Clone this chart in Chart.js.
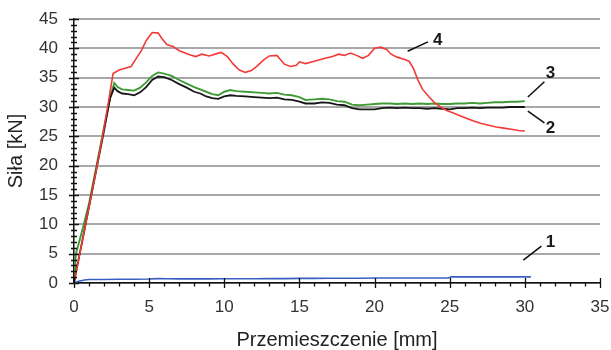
<!DOCTYPE html>
<html>
<head>
<meta charset="utf-8">
<script src="https://cdn.jsdelivr.net/npm/chart.js@4/dist/chart.umd.min.js"></script>
<style>
  html, body { margin: 0; padding: 0; background: #fff; }
  #wrap { width: 611px; height: 350px; }
</style>
</head>
<body>
<div id="wrap"><canvas id="chart" width="611" height="350"></canvas></div>
<script>
// --- DATA ---
const xTicks = [0, 5, 10, 15, 20, 25, 30, 35];
const yTicks = [0, 5, 10, 15, 20, 25, 30, 35, 40, 45];

// curve 4 (red)
const x4 = [0, 0.5, 1, 1.5, 2, 2.3, 2.6, 3.0, 3.4, 3.8, 4.2, 4.5, 4.8, 5.2, 5.6, 5.9, 6.2, 6.6, 7.0, 7.3, 7.7, 8.1, 8.5, 9.0, 9.5, 9.8, 10.2, 10.6, 11.0, 11.4, 11.8, 12.2, 12.6, 13.0, 13.5, 14.0, 14.4, 14.8, 15.0, 15.4, 16.0, 16.7, 17.2, 17.6, 18.0, 18.4, 18.8, 19.2, 19.6, 20.0, 20.4, 20.8, 21.1, 21.5, 22.0, 22.3, 22.6, 22.9, 23.2, 23.6, 24.0, 24.4, 24.8, 25.2, 25.6, 26.1, 26.6, 27.1, 27.6, 28.1, 28.6, 29.1, 29.6, 30.0];
const y4 = [0, 6.5, 13, 19.5, 26.5, 31, 35.7, 36.3, 36.6, 36.9, 38.5, 39.7, 41.3, 42.7, 42.6, 41.5, 40.6, 40.3, 39.6, 39.3, 38.9, 38.6, 39.0, 38.7, 39.1, 39.3, 38.6, 37.3, 36.3, 35.9, 36.2, 37.0, 38.0, 38.7, 38.8, 37.3, 36.9, 37.1, 37.7, 37.4, 37.8, 38.3, 38.6, 39.0, 38.8, 39.2, 38.8, 38.3, 38.8, 40.0, 40.2, 39.8, 39.0, 38.5, 38.1, 37.8, 36.5, 34.5, 33.0, 31.8, 30.7, 30.0, 29.4, 29.0, 28.6, 28.1, 27.6, 27.2, 26.9, 26.6, 26.4, 26.2, 26.0, 25.9];

// curves 3 (green) and 2 (black) share the same x readings
const x23 = [0, 0.13, 0.5, 1.0, 1.5, 2.0, 2.4, 2.68, 2.9, 3.2, 3.6, 4.0, 4.4, 4.8, 5.2, 5.6, 6.0, 6.5, 7.0, 7.5, 8.0, 8.4, 8.8, 9.2, 9.6, 10.0, 10.4, 10.8, 11.4, 12.0, 12.5, 13.0, 13.5, 14.0, 14.5, 15.0, 15.4, 16.0, 16.5, 17.0, 17.5, 18.0, 18.5, 19.0, 19.5, 20.0, 20.5, 21.0, 21.5, 22.0, 22.5, 23.0, 23.5, 24.0, 24.5, 25.0, 25.5, 26.0, 26.5, 27.0, 27.5, 28.0, 28.5, 29.0, 29.5, 30.0];
const y3 = [0, 5, 8.5, 13.5, 20, 26.5, 31.5, 34.1, 33.4, 33.0, 32.9, 32.8, 33.3, 34.2, 35.3, 35.9, 35.7, 35.3, 34.6, 34.0, 33.4, 33.0, 32.6, 32.2, 32.0, 32.6, 32.9, 32.7, 32.6, 32.5, 32.4, 32.3, 32.4, 32.1, 32.0, 31.7, 31.2, 31.3, 31.4, 31.3, 31.0, 30.9, 30.4, 30.3, 30.4, 30.5, 30.6, 30.6, 30.5, 30.6, 30.5, 30.6, 30.5, 30.6, 30.5, 30.5, 30.6, 30.6, 30.7, 30.6, 30.7, 30.8, 30.8, 30.9, 30.9, 31.0];
const y2 = [0, 1.8, 6.5, 13, 19.5, 26, 31.5, 33.3, 32.7, 32.3, 32.2, 32.0, 32.5, 33.4, 34.6, 35.2, 35.1, 34.6, 33.9, 33.3, 32.6, 32.3, 31.8, 31.5, 31.4, 31.8, 32.0, 31.9, 31.8, 31.7, 31.6, 31.5, 31.6, 31.3, 31.2, 30.9, 30.6, 30.6, 30.8, 30.7, 30.4, 30.3, 29.8, 29.6, 29.6, 29.6, 29.8, 29.9, 29.8, 29.9, 29.8, 29.8, 29.7, 29.8, 29.7, 29.6, 29.8, 29.8, 29.9, 29.8, 29.9, 29.9, 29.9, 30.0, 30.0, 30.0];

// curve 1 (blue)
const x1 = [0, 0.3, 0.7, 1.0, 2, 3, 4, 5, 5.6, 6.2, 7, 8, 9, 10, 11, 12, 13, 14, 15, 16, 17, 18, 19, 20, 21, 22, 23, 24, 24.9, 25.1, 26, 27, 28, 29, 30, 30.4];
const y1 = [0, 0.3, 0.5, 0.6, 0.6, 0.65, 0.65, 0.68, 0.75, 0.72, 0.7, 0.7, 0.7, 0.72, 0.72, 0.72, 0.75, 0.75, 0.78, 0.78, 0.8, 0.8, 0.82, 0.85, 0.85, 0.86, 0.86, 0.86, 0.86, 1.05, 1.05, 1.05, 1.05, 1.05, 1.05, 1.05];

// curve numbers with leader lines (data coordinates)
const labelText = ['1', '2', '3', '4'];
const labelX = [31.7, 31.7, 31.7, 24.2];
const labelY = [7.0, 26.4, 35.8, 41.4];
const leadFrom = [[29.9, 3.9], [30.2, 29.3], [30.2, 31.7], [22.2, 39.5]];
const leadTo = [[31.1, 6.3], [31.3, 27.3], [31.3, 34.3], [23.55, 41.1]];

// --- HELPERS ---
const pts = (xs, ys) => xs.map((x, i) => ({ x: x, y: ys[i] }));
const FONT = "'Liberation Sans', Arial, sans-serif";

// ticks: majors cross the axis, minors every 1 unit
const tickPlugin = {
    id: 'ticks',
    afterDraw(chart) {
        const { ctx, scales: { x, y } } = chart;
        ctx.save();
        ctx.strokeStyle = '#111';
        ctx.lineWidth = 1.3;
        const x0 = x.getPixelForValue(0);
        const y0 = y.getPixelForValue(0);
        ctx.beginPath();
        for (let v = 0; v <= 45; v++) {
            const py = Math.round(y.getPixelForValue(v)) + 0.5;
            const major = v % 5 === 0;
            ctx.moveTo(x0 - (major ? 5 : 3), py);
            ctx.lineTo(x0 + (major ? 5 : 3), py);
        }
        for (let v = 0; v <= 35; v++) {
            const px = Math.round(x.getPixelForValue(v)) + 0.5;
            const major = v % 5 === 0;
            ctx.moveTo(px, y0 - (major ? 5 : 0));
            ctx.lineTo(px, y0 + (major ? 5 : 3.5));
        }
        ctx.stroke();
        ctx.restore();
    }
};

const labelPlugin = {
    id: 'curveLabels',
    afterDraw(chart) {
        const { ctx, scales: { x, y } } = chart;
        ctx.save();
        ctx.strokeStyle = '#111';
        ctx.lineWidth = 1.6;
        ctx.fillStyle = '#1a1a1a';
        ctx.font = 'bold 17px ' + FONT;
        ctx.textAlign = 'center';
        ctx.textBaseline = 'middle';
        labelText.forEach((t, i) => {
            ctx.beginPath();
            ctx.moveTo(x.getPixelForValue(leadFrom[i][0]), y.getPixelForValue(leadFrom[i][1]));
            ctx.lineTo(x.getPixelForValue(leadTo[i][0]), y.getPixelForValue(leadTo[i][1]));
            ctx.stroke();
            ctx.fillText(t, x.getPixelForValue(labelX[i]), y.getPixelForValue(labelY[i]));
        });
        ctx.restore();
    }
};

const line = (data, color, w) => ({
    data: data,
    borderColor: color,
    borderWidth: w,
    pointRadius: 0,
    tension: 0,
    fill: false
});

// --- CHART ---
new Chart(document.getElementById('chart'), {
    type: 'line',
    data: {
        datasets: [
            line(pts(x4, y4), '#f23a36', 1.6),
            line(pts(x23, y2), '#161616', 1.8),
            line(pts(x23, y3), '#3f9b35', 1.9),
            line(pts(x1, y1), '#3a5fc2', 1.6)
        ]
    },
    options: {
        responsive: false,
        animation: false,
        layout: { padding: { top: 19, right: 11, left: 0, bottom: 0 } },
        plugins: { legend: { display: false }, tooltip: { enabled: false } },
        scales: {
            x: {
                type: 'linear',
                min: 0, max: 35,
                afterBuildTicks: s => { s.ticks = xTicks.map(v => ({ value: v })); },
                afterFit: s => { s.height = 67; s.paddingLeft = 0; s.paddingRight = 0; },
                grid: { display: false, drawTicks: false },
                border: { display: true, color: '#111', width: 1.5 },
                ticks: { padding: 14, color: '#333', font: { family: FONT, size: 17 }, maxRotation: 0 },
                title: { display: true, text: 'Przemieszczenie [mm]', color: '#222', font: { family: FONT, size: 20, lineHeight: 1 }, padding: { top: 0, bottom: 0 } }
            },
            y: {
                type: 'linear',
                min: 0, max: 45,
                afterBuildTicks: s => { s.ticks = yTicks.map(v => ({ value: v })); },
                afterFit: s => { s.width = 74; s.paddingTop = 0; s.paddingBottom = 0; },
                grid: { color: '#a8a8a8', lineWidth: 2, drawTicks: false },
                border: { display: true, color: '#111', width: 1.5 },
                ticks: { padding: 16, color: '#333', font: { family: FONT, size: 17 } },
                title: { display: true, text: 'Siła [kN]', color: '#222', font: { family: FONT, size: 20, lineHeight: 1 }, padding: { top: 6, bottom: 0 } }
            }
        }
    },
    plugins: [tickPlugin, labelPlugin]
});
</script>
</body>
</html>
